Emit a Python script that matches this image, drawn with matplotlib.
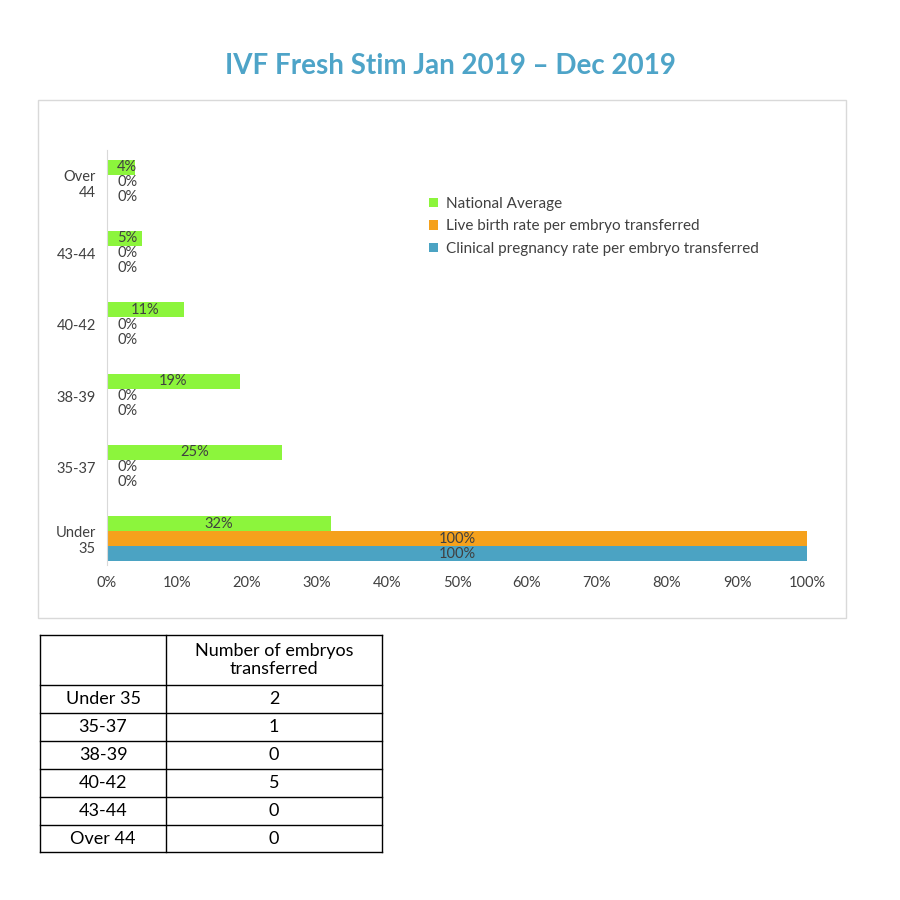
import matplotlib.pyplot as plt
from matplotlib.patches import Rectangle

plt.rcParams['font.family'] = ['Lato', 'DejaVu Sans']

groups = ['Under 35', '35-37', '38-39', '40-42', '43-44', 'Over 44']
ytick_labels = ['Under\n35', '35-37', '38-39', '40-42', '43-44', 'Over\n44']
national = [32, 25, 19, 11, 5, 4]
live_birth = [100, 0, 0, 0, 0, 0]
clinical = [100, 0, 0, 0, 0, 0]
embryos = [2, 1, 0, 5, 0, 0]

green = '#8cf53c'
orange = '#f5a11c'
blue = '#4ba3c3'
txt = '#404040'

fig = plt.figure(figsize=(9, 9), dpi=100)
fig.text(0.5, 0.927, 'IVF Fresh Stim Jan 2019 \u2013 Dec 2019', ha='center', va='center',
         fontsize=20, fontweight='bold', color='#4ea4c8')

# chart border
fig.patches.append(Rectangle((38/900, 1-618/900), 808/900, 518/900, transform=fig.transFigure,
                             fill=False, edgecolor='#d9d9d9', linewidth=1))

ax = fig.add_axes([107/900, 1-565/900, 700/900, 415/900])
h = 0.21
y = list(range(len(groups)))
series = [(national, green, 'National Average', h),
          (live_birth, orange, 'Live birth rate per embryo transferred', 0),
          (clinical, blue, 'Clinical pregnancy rate per embryo transferred', -h)]
for vals, col, lab, off in series:
    ax.barh([v + off for v in y], vals, height=h, color=col, label=lab)
    for yi, v in zip(y, vals):
        ax.text(max(v / 2, 2.9), yi + off, f'{v}%', ha='center', va='center',
                fontsize=10.5, color=txt)

ax.set_xlim(0, 100)
ax.set_ylim(-0.37, 5.45)
ax.set_xticks(range(0, 101, 10))
ax.set_xticklabels([f'{t}%' for t in range(0, 101, 10)], fontsize=10.5, color=txt)
ax.set_yticks(y)
ax.set_yticklabels(ytick_labels, fontsize=10.5, color=txt)
ax.tick_params(length=0, pad=8)
for s in ['top', 'right', 'bottom']:
    ax.spines[s].set_visible(False)
ax.spines['left'].set_color('#d9d9d9')
ax.legend(loc='upper left', bbox_to_anchor=(0.44, 0.92), frameon=False, fontsize=11,
          handlelength=0.6, handleheight=0.6, labelcolor=txt, labelspacing=0.55, handletextpad=0.5)

# table
tab_x = [40, 166, 382]
row_y = [635, 685, 713, 741, 769, 797, 825, 852]
def fx(px): return px / 900
def fy(py): return 1 - py / 900
for py in row_y:
    fig.add_artist(plt.Line2D([fx(40), fx(382)], [fy(py), fy(py)], color='black', lw=1))
for px in tab_x:
    fig.add_artist(plt.Line2D([fx(px), fx(px)], [fy(635), fy(852)], color='black', lw=1))
fig.text(fx(274), fy(660), 'Number of embryos\ntransferred', ha='center', va='center', fontsize=13)
for i, (g, n) in enumerate(zip(groups, embryos)):
    yc = fy((row_y[i + 1] + row_y[i + 2]) / 2)
    fig.text(fx(103), yc, g, ha='center', va='center', fontsize=13)
    fig.text(fx(274), yc, str(n), ha='center', va='center', fontsize=13)

fig.savefig('out.png', dpi=100, facecolor='white')
